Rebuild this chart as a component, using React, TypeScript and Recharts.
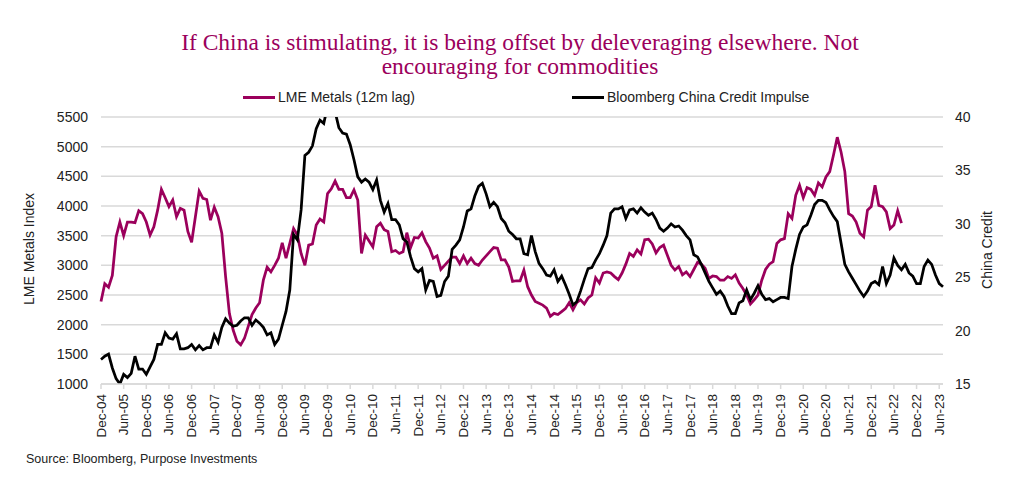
import React from 'react';
import { LineChart, Line, XAxis, YAxis, CartesianGrid } from 'recharts';

const MONTH_NAMES = ['Jan', 'Feb', 'Mar', 'Apr', 'May', 'Jun', 'Jul', 'Aug', 'Sep', 'Oct', 'Nov', 'Dec'];
const START_YEAR = 2004;
const START_MONTH = 11; // December

// LME Metals index (12m lag), monthly from Dec-04
const lmeMetals: number[] = [
  2390, 2690, 2630, 2830, 3480, 3730, 3500, 3730, 3730, 3720, 3920, 3870,
  3730, 3510, 3650, 3930, 4280, 4140, 3990, 4100, 3820, 3960, 3930, 3570,
  3390, 3820, 4250, 4130, 4110, 3760, 3980, 3820, 3540, 2810, 2190, 1910,
  1720, 1660, 1770, 1970, 2170, 2280, 2370, 2750, 2970, 2890, 3000, 3120,
  3380, 3120, 3370, 3620, 3510, 3200, 3000, 3340, 3360, 3680, 3780, 3730,
  4210, 4290, 4420, 4280, 4280, 4140, 4140, 4270, 4100, 3200, 3510, 3410,
  3310, 3650, 3710, 3600, 3570, 3230, 3250, 3200, 3230, 3550, 3300, 3470,
  3460, 3550, 3400, 3290, 3120, 3160, 2930, 3000, 3070, 3140, 3140, 3030,
  3160, 3030, 3120, 3030, 3000, 3090, 3160, 3230, 3300, 3290, 3090, 3090,
  2970, 2730, 2740, 2740, 2920, 2640, 2500, 2390, 2360, 2330, 2280, 2140,
  2190, 2170, 2220, 2270, 2370, 2250, 2370, 2420, 2350, 2450, 2500, 2790,
  2700, 2870, 2890, 2870, 2810, 2760, 2870, 3020, 3200, 3150, 3260, 3190,
  3430, 3440, 3360, 3210, 3300, 3340, 3170, 3000, 2920, 2980, 2840, 2890,
  2810, 2930, 3050, 3020, 2950, 2780, 2820, 2810, 2750, 2750, 2810, 2780,
  2840, 2700, 2610, 2500, 2350, 2420, 2500, 2750, 2930, 3020, 3060, 3370,
  3430, 3450, 3870, 3790, 4180, 4350, 4140, 4310, 4280, 4180, 4390, 4320,
  4490, 4580, 4860, 5160, 4910, 4580, 3870, 3830, 3730, 3540, 3480, 3930,
  3990, 4350, 4010, 3990, 3900, 3620, 3680, 3920, 3710,
];

// Bloomberg China Credit Impulse, monthly from Dec-04
const creditImpulse: number[] = [
  17.3, 17.6, 17.8, 16.5, 15.5, 15.0, 15.9, 15.6, 16.0, 17.6, 16.4, 16.4,
  15.9, 16.6, 17.3, 18.7, 18.7, 19.8, 19.3, 19.2, 19.7, 18.3, 18.3, 18.4,
  18.7, 18.2, 18.6, 18.2, 18.4, 18.4, 19.6, 18.9, 20.3, 21.1, 20.7, 20.4,
  20.5, 20.9, 21.2, 21.2, 20.5, 21.0, 20.7, 20.3, 19.6, 19.8, 18.7, 19.2,
  20.5, 21.8, 23.8, 29.0, 28.5, 31.3, 36.4, 36.7, 37.3, 38.9, 39.7, 39.4,
  41.0, 41.5, 40.5, 39.0, 38.5, 38.4, 37.4, 36.0, 34.4, 33.9, 34.2, 33.9,
  33.2, 34.1, 32.2, 31.1, 31.9, 30.4, 30.4, 29.9, 28.6, 28.3, 26.9, 25.8,
  25.5, 25.8, 23.8, 24.7, 24.6, 23.2, 23.3, 24.6, 25.1, 27.6, 28.0, 28.5,
  29.7, 31.2, 31.4, 32.6, 33.5, 33.8, 32.8, 31.6, 32.0, 31.6, 30.5, 30.1,
  29.3, 29.0, 28.6, 28.6, 27.2, 27.1, 28.9, 27.4, 26.3, 25.8, 25.2, 25.1,
  25.7, 24.6, 25.1, 24.3, 23.4, 22.4, 22.7, 23.7, 24.8, 25.8, 25.9, 26.6,
  27.2, 28.0, 28.9, 31.0, 31.4, 31.4, 31.6, 30.5, 31.3, 31.4, 31.0, 31.5,
  31.1, 30.8, 31.0, 30.4, 29.6, 29.3, 29.6, 30.0, 29.7, 29.8, 29.4, 28.9,
  28.5, 27.1, 26.9, 26.2, 25.4, 24.6, 24.0, 23.4, 23.7, 23.2, 22.3, 21.6,
  21.6, 22.6, 22.8, 23.8, 22.9, 23.5, 24.2, 23.4, 22.9, 23.0, 22.7, 22.9,
  23.1, 23.1, 23.0, 26.0, 27.6, 29.0, 29.7, 29.9, 30.8, 31.8, 32.2, 32.2,
  32.0, 31.3, 30.7, 30.2, 28.2, 26.2, 25.5, 24.9, 24.3, 23.7, 23.2, 23.7,
  24.4, 24.6, 24.3, 26.0, 24.4, 25.2, 26.8, 26.1, 25.7, 26.2, 25.4, 25.1,
  24.4, 24.4, 26.0, 26.6, 26.2, 25.2, 24.4, 24.1,
];

const leftTicks = [1000, 1500, 2000, 2500, 3000, 3500, 4000, 4500, 5000, 5500];
const rightTicks = [15, 20, 25, 30, 35, 40];

const categories: string[] = creditImpulse.map((_, i) => {
  const mi = START_MONTH + i;
  const yr = START_YEAR + Math.floor(mi / 12);
  return `${MONTH_NAMES[mi % 12]}-${String(yr % 100).padStart(2, '0')}`;
});

const data = categories.map((month, i) => ({
  month,
  lme: i < lmeMetals.length ? lmeMetals[i] : null,
  credit: creditImpulse[i],
}));

const MAGENTA = '#9B005C';
const GRID = '#D9D9D9';
const FONT = '"Liberation Sans", Arial, sans-serif';

const XTick = (props: any) => {
  const { x, y, payload } = props;
  return (
    <text
      x={x}
      y={y}
      transform={`rotate(-90, ${x}, ${y})`}
      textAnchor="end"
      dominantBaseline="central"
      fontSize={13.5}
      fontFamily={FONT}
      fill="#222"
    >
      {payload.value}
    </text>
  );
};

export default function App() {
  return (
    <div style={{ position: 'relative', width: 1000, height: 474, fontFamily: FONT, color: '#222' }}>
      <div
        style={{
          position: 'absolute',
          left: 0,
          top: 22,
          width: 1024,
          textAlign: 'center',
          fontFamily: '"Liberation Serif", "DejaVu Serif", serif',
          fontSize: 23.5,
          lineHeight: '24px',
          color: MAGENTA,
          whiteSpace: 'nowrap',
        }}
      >
        <div>If China is stimulating, it is being offset by deleveraging elsewhere. Not</div>
        <div>encouraging for commodities</div>
      </div>

      {/* Legend */}
      <div style={{ position: 'absolute', left: 235, top: 80, height: 18, display: 'flex', alignItems: 'center', fontSize: 14 }}>
        <div style={{ width: 32, height: 3, background: MAGENTA, marginRight: 3 }} />
        <span>LME Metals (12m lag)</span>
      </div>
      <div style={{ position: 'absolute', left: 564, top: 80, height: 18, display: 'flex', alignItems: 'center', fontSize: 14 }}>
        <div style={{ width: 32, height: 3, background: '#000', marginRight: 3 }} />
        <span>Bloomberg China Credit Impulse</span>
      </div>

      <div style={{ position: 'absolute', left: 0, top: 0 }}>
        <LineChart width={1000} height={470} data={data} margin={{ top: 109, right: 0, bottom: 44, left: 0 }}>
          <CartesianGrid yAxisId="left" vertical={false} stroke={GRID} strokeWidth={1.5} />
          <XAxis
            dataKey="month"
            interval={5}
            height={50}
            axisLine={{ stroke: GRID, strokeWidth: 1.5 }}
            tickLine={{ stroke: GRID, strokeWidth: 1.5 }}
            tickSize={5}
            tickMargin={5}
            tick={<XTick />}
          />
          <YAxis
            yAxisId="left"
            orientation="left"
            width={93}
            domain={[1000, 5500]}
            ticks={leftTicks}
            allowDataOverflow
            axisLine={false}
            tickLine={false}
            tickMargin={7}
            tick={{ fontSize: 14, fill: '#222', fontFamily: FONT }}
          />
          <YAxis
            yAxisId="right"
            orientation="right"
            width={65}
            domain={[15, 40]}
            ticks={rightTicks}
            allowDataOverflow
            axisLine={false}
            tickLine={false}
            tickMargin={6}
            tick={{ fontSize: 14, fill: '#222', fontFamily: FONT }}
          />
          <Line
            yAxisId="left"
            type="linear"
            dataKey="lme"
            name="LME Metals (12m lag)"
            stroke={MAGENTA}
            strokeWidth={2.75}
            dot={false}
            isAnimationActive={false}
          />
          <Line
            yAxisId="right"
            type="linear"
            dataKey="credit"
            name="Bloomberg China Credit Impulse"
            stroke="#000"
            strokeWidth={2.75}
            dot={false}
            isAnimationActive={false}
          />
        </LineChart>
      </div>

      <div
        style={{
          position: 'absolute',
          left: 21,
          top: 241,
          transform: 'translate(-50%, -50%) rotate(-90deg)',
          fontSize: 14,
          whiteSpace: 'nowrap',
        }}
      >
        LME Metals Index
      </div>
      <div
        style={{
          position: 'absolute',
          left: 979,
          top: 242,
          transform: 'translate(-50%, -50%) rotate(-90deg)',
          fontSize: 14,
          whiteSpace: 'nowrap',
        }}
      >
        China Credit
      </div>

      <div style={{ position: 'absolute', left: 18, top: 443, fontSize: 12.5, lineHeight: '16px', whiteSpace: 'nowrap' }}>
        Source: Bloomberg, Purpose Investments
      </div>
    </div>
  );
}
